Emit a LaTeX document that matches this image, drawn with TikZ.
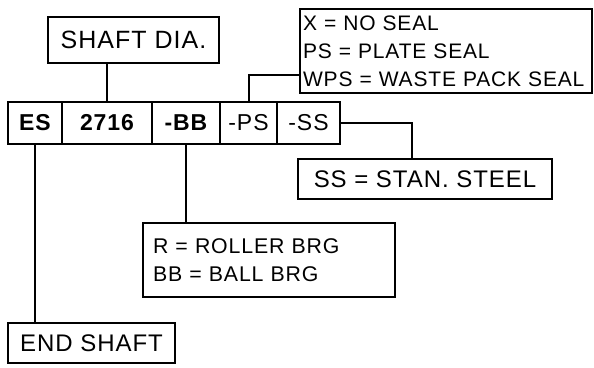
\documentclass[tikz,border=0pt]{standalone}
\usepackage{fontspec}
\setmainfont{Liberation Sans}[LetterSpace=4]
\begin{document}
\begin{tikzpicture}[x=1pt,y=-1pt,
  box/.style={draw, line width=2pt, inner sep=0pt, font=\fontsize{23}{28}\selectfont},
  cell/.style={box, minimum height=42pt},
  legend/.style={draw, line width=2pt, inner xsep=3pt, inner ysep=0pt, align=left},
  link/.style={line width=2pt}]
\useasboundingbox (0,0) rectangle (594,367);
% code row
\node[cell, minimum width=54pt, font=\fontsize{23}{28}\selectfont\bfseries] (es) at (35,123) {ES};
\node[cell, minimum width=90pt, font=\fontsize{23}{28}\selectfont\bfseries] (c2716) at (107,123) {2716};
\node[cell, minimum width=68pt, font=\fontsize{23}{28}\selectfont\bfseries] (bb) at (186,123) {-BB};
\node[cell, minimum width=57pt] (ps) at (248.5,123) {-PS};
\node[cell, minimum width=63pt] (ss) at (308.5,123) {-SS};
% labels
\node[box, minimum width=171pt, minimum height=46pt, font=\fontsize{25}{28}\selectfont] (shaft) at (133.5,40) {SHAFT DIA.};
\node[legend, text width=286pt, minimum height=84pt, font=\fontsize{21}{28}\selectfont] (xbox) at (446,51)
  {X = NO SEAL\\PS = PLATE SEAL\\WPS = WASTE PACK SEAL};
\node[box, minimum width=254pt, minimum height=40pt, font=\fontsize{24}{28}\selectfont] (ssbox) at (425,179) {SS = STAN. STEEL};
\node[legend, text width=232pt, inner xsep=10pt, minimum height=74pt, font=\fontsize{21.3}{28}\selectfont] (rbox) at (269,260)
  {R = ROLLER BRG\\BB = BALL BRG};
\node[box, minimum width=167pt, minimum height=40pt, font=\fontsize{24}{28}\selectfont] (endshaft) at (91.5,343) {END SHAFT};
% connectors
\draw[link] (c2716.north) -- (c2716.north |- shaft.south);
\draw[link] (ps.north) |- ([yshift=19pt]xbox.south west);
\draw[link] (ss.east) -| ([xshift=-13pt]ssbox.north);
\draw[link] (bb.south) -- (bb.south |- rbox.north);
\draw[link] (es.south) -- (es.south |- endshaft.north);
\end{tikzpicture}
\end{document}
